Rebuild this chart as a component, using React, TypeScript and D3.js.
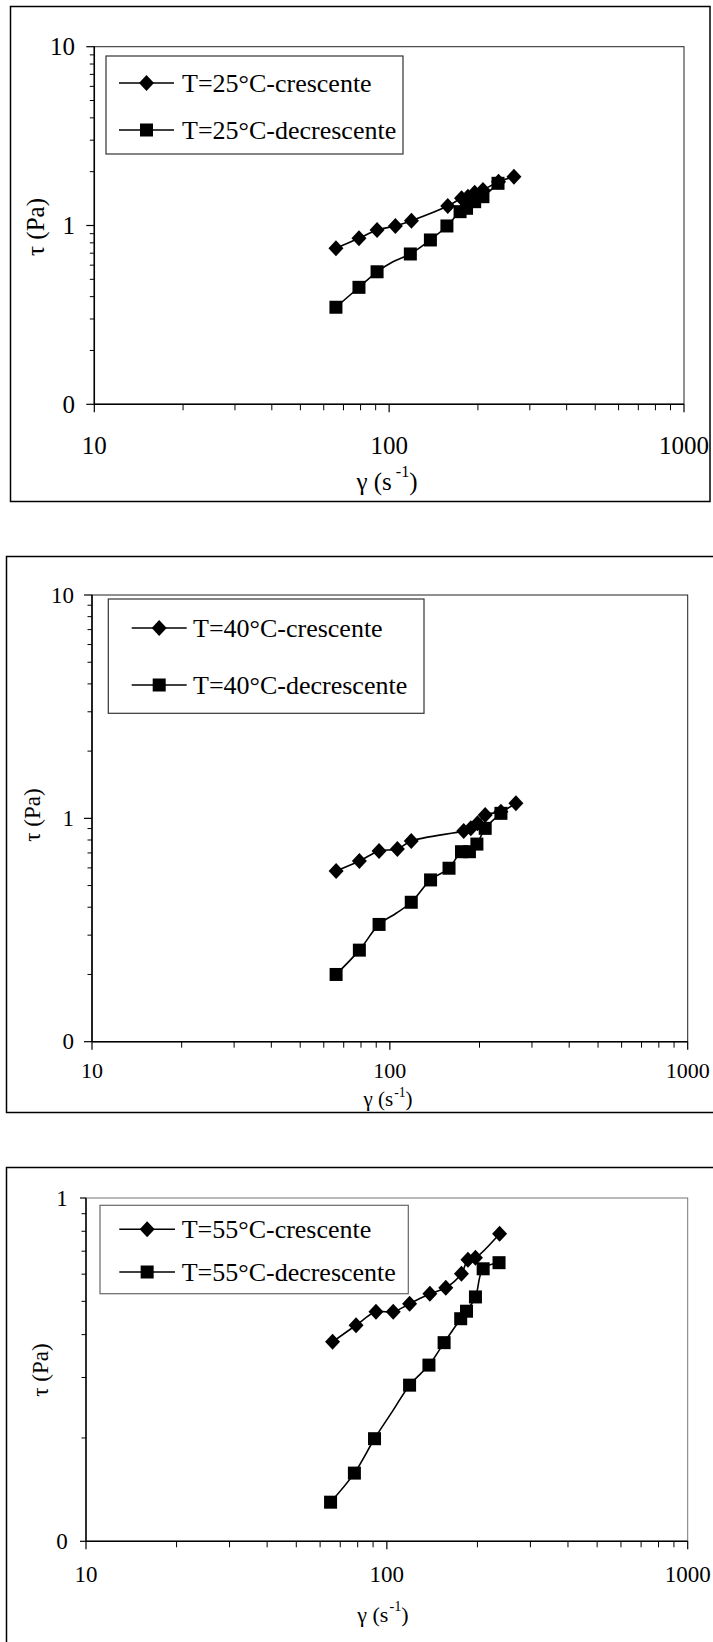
import React from "react";
import * as d3 from "d3";

// shear rate (1/s) and shear stress (Pa)
const rate25Up = [66, 79, 91, 105, 119, 158, 176, 185, 195, 208, 235, 265];
const tau25Up = [0.746, 0.848, 0.944, 0.994, 1.064, 1.285, 1.419, 1.449, 1.526, 1.58, 1.758, 1.875];
const rate25Down = [66, 79, 91, 103, 118, 138, 157, 174, 183, 195, 208, 234];
const tau25Down = [0.349, 0.451, 0.551, 0.627, 0.693, 0.83, 0.994, 1.195, 1.248, 1.359, 1.449, 1.722];

const rate40Up = [66, 79, 92, 106, 118, 177, 187, 197, 209, 236, 265];
const tau40Up = [0.581, 0.644, 0.714, 0.729, 0.792, 0.878, 0.902, 0.95, 1.035, 1.071, 1.168];
const rate40Down = [66, 79, 92, 105, 118, 137, 158, 174, 185, 196, 209, 236];
const tau40Down = [0.2, 0.257, 0.335, 0.376, 0.421, 0.53, 0.598, 0.709, 0.709, 0.767, 0.902, 1.053];

const rate55Up = [66, 79, 92, 105, 119, 139, 157, 177, 186, 197, 237];
const tau55Up = [0.381, 0.426, 0.466, 0.466, 0.492, 0.526, 0.548, 0.602, 0.661, 0.67, 0.787];
const rate55Down = [65, 78, 91, 105, 119, 138, 155, 176, 184, 197, 209, 236];
const tau55Down = [0.13, 0.158, 0.199, 0.241, 0.285, 0.326, 0.379, 0.445, 0.468, 0.515, 0.622, 0.648];

// point on the decrescente curves that has no marker
const noMarkerDown = [3];

const xTicks = [10, 100, 1000];
const xTickLabels = ["10", "100", "1000"];
const yTicksWide = [0.1, 1, 10];
const yTickLabelsWide = ["0", "1", "10"];
const yTicksNarrow = [0.1, 1];
const yTickLabelsNarrow = ["0", "1"];

const legend25 = ["T=25°C-crescente", "T=25°C-decrescente"];
const legend40 = ["T=40°C-crescente", "T=40°C-decrescente"];
const legend55 = ["T=55°C-crescente", "T=55°C-decrescente"];

const FONT = '"Liberation Serif", "DejaVu Serif", serif';

const Marker = ({ kind, cx, cy }) =>
  kind === "diamond" ? (
    <path d={`M${cx},${cy - 8}L${cx + 7.5},${cy}L${cx},${cy + 8}L${cx - 7.5},${cy}Z`} fill="#000" />
  ) : (
    <rect x={cx - 6.5} y={cy - 6.5} width={13} height={13} fill="#000" />
  );

const Panel = ({ cfg, yTicks, yLabels, up, down, legend }) => {
  const x = d3.scaleLog().domain([10, 1000]).range([cfg.l, cfg.r]);
  const y = d3.scaleLog().domain([yTicks[0], yTicks[yTicks.length - 1]]).range([cfg.b, cfg.t]);

  const line = d3
    .line()
    .x((d) => x(d[0]))
    .y((d) => y(d[1]))
    .curve(d3.curveCatmullRom.alpha(0.5));

  const upPts = up[0].map((r, i) => [r, up[1][i]]);
  const downPts = down[0].map((r, i) => [r, down[1][i]]);

  // minor ticks, 2..9 in every decade
  const xMinor = [];
  [10, 100].forEach((d) => d3.range(2, 10).forEach((k) => xMinor.push(d * k)));
  const yMinor = [];
  yTicks.slice(0, -1).forEach((d) => d3.range(2, 10).forEach((k) => yMinor.push(d * k)));

  return (
    <g style={{ fontFamily: FONT }} fill="#000">
      <rect x={cfg.frame[0]} y={cfg.frame[1]} width={cfg.frame[2]} height={cfg.frame[3]} fill="none" stroke="#000" strokeWidth={1.5} />
      <rect x={cfg.l} y={cfg.t} width={cfg.r - cfg.l} height={cfg.b - cfg.t} fill="none" stroke={cfg.boxColor} strokeWidth={1} />
      <line x1={cfg.l} x2={cfg.l} y1={cfg.t} y2={cfg.b} stroke="#000" strokeWidth={1.5} />
      <line x1={cfg.l} x2={cfg.r} y1={cfg.b} y2={cfg.b} stroke="#000" strokeWidth={1.5} />

      {xTicks.map((t, i) => (
        <g key={"xt" + t}>
          <line x1={x(t)} x2={x(t)} y1={cfg.b} y2={cfg.b + 8} stroke="#000" strokeWidth={1.2} />
          <text x={x(t)} y={cfg.xLabelY} textAnchor="middle" dominantBaseline="central" fontSize={cfg.xTickFont}>
            {xTickLabels[i]}
          </text>
        </g>
      ))}
      {xMinor.map((t) => (
        <line key={"xm" + t} x1={x(t)} x2={x(t)} y1={cfg.b} y2={cfg.b + 6} stroke="#000" strokeWidth={1} />
      ))}

      {yTicks.map((t, i) => (
        <g key={"yt" + t}>
          <line x1={cfg.l - cfg.yMajor} x2={cfg.l} y1={y(t)} y2={y(t)} stroke="#000" strokeWidth={1.2} />
          <text x={cfg.yLabelX} y={y(t)} textAnchor="end" dominantBaseline="central" fontSize={cfg.yTickFont}>
            {yLabels[i]}
          </text>
        </g>
      ))}
      {yMinor.map((t) => (
        <line key={"ym" + t} x1={cfg.l - 4.5} x2={cfg.l} y1={y(t)} y2={y(t)} stroke="#000" strokeWidth={1} />
      ))}

      <text
        transform={`translate(${cfg.yTitle[0]},${cfg.yTitle[1]}) rotate(-90)`}
        textAnchor="middle"
        dominantBaseline="central"
        fontSize={cfg.yTitleFont}
      >
        τ (Pa)
      </text>
      <text x={cfg.xTitle[0]} y={cfg.xTitle[1]} textAnchor="middle" dominantBaseline="central" fontSize={cfg.xTitleFont}>
        γ (s
        <tspan dx={cfg.supGap} dy={-cfg.xTitleFont * 0.35} fontSize={cfg.xTitleFont * 0.65}>
          -1
        </tspan>
        <tspan dy={cfg.xTitleFont * 0.35}>)</tspan>
      </text>

      <path d={line(upPts)} fill="none" stroke="#000" strokeWidth={1.6} />
      <path d={line(downPts)} fill="none" stroke="#000" strokeWidth={1.6} />
      {upPts.map((p, i) => (
        <Marker key={"u" + i} kind="diamond" cx={x(p[0])} cy={y(p[1])} />
      ))}
      {downPts.map((p, i) =>
        noMarkerDown.includes(i) ? null : <Marker key={"d" + i} kind="square" cx={x(p[0])} cy={y(p[1])} />
      )}

      <rect
        x={cfg.legend.x}
        y={cfg.legend.y}
        width={cfg.legend.w}
        height={cfg.legend.h}
        fill="#fff"
        stroke={cfg.legendColor}
        strokeWidth={1.2}
      />
      {legend.map((name, i) => {
        const ly = cfg.legend.rows[i];
        return (
          <g key={name}>
            <line x1={cfg.legend.x1} x2={cfg.legend.x2} y1={ly} y2={ly} stroke="#000" strokeWidth={1.6} />
            <Marker kind={i === 0 ? "diamond" : "square"} cx={(cfg.legend.x1 + cfg.legend.x2) / 2} cy={ly} />
            <text x={cfg.legend.tx} y={ly} dominantBaseline="central" fontSize={26}>
              {name}
            </text>
          </g>
        );
      })}
    </g>
  );
};

const cfg25 = {
  frame: [10.5, 6.5, 699.5, 495],
  l: 94.3, r: 684, t: 46.7, b: 404.3,
  boxColor: "#222", legendColor: "#333",
  xTickFont: 25, yTickFont: 25, xTitleFont: 25, yTitleFont: 25, yMajor: 8,
  yLabelX: 75, xLabelY: 445,
  yTitle: [35, 227], xTitle: [387, 481], supGap: 4,
  legend: { x: 106, y: 56, w: 297, h: 98, x1: 119, x2: 174, tx: 182, rows: [83, 130] },
};
const cfg40 = {
  frame: [6.5, 556.5, 720, 556],
  l: 92, r: 687.7, t: 595, b: 1041.7,
  boxColor: "#222", legendColor: "#333",
  xTickFont: 22, yTickFont: 23, xTitleFont: 21, yTitleFont: 23, yMajor: 8,
  yLabelX: 74, xLabelY: 1070,
  yTitle: [32, 815], xTitle: [388, 1099], supGap: 1,
  legend: { x: 108.3, y: 599, w: 315.7, h: 114.3, x1: 131.7, x2: 186.7, tx: 193, rows: [628, 685] },
};
const cfg55 = {
  frame: [6.5, 1167.5, 720, 500],
  l: 86, r: 687.7, t: 1198, b: 1541.3,
  boxColor: "#777", legendColor: "#666",
  xTickFont: 23, yTickFont: 23, xTitleFont: 22, yTitleFont: 23, yMajor: 6,
  yLabelX: 67.7, xLabelY: 1574,
  yTitle: [40.7, 1370], xTitle: [383, 1614], supGap: 1,
  legend: { x: 100, y: 1205.3, w: 308.3, h: 88.4, x1: 119.3, x2: 175, tx: 181.7, rows: [1229.3, 1272] },
};

export default function App() {
  return (
    <svg
      width={713}
      height={1642}
      style={{ position: "absolute", left: 0, top: 0, display: "block", background: "#fff", fontFamily: FONT }}
    >
      <Panel cfg={cfg25} yTicks={yTicksWide} yLabels={yTickLabelsWide} up={[rate25Up, tau25Up]} down={[rate25Down, tau25Down]} legend={legend25} />
      <Panel cfg={cfg40} yTicks={yTicksWide} yLabels={yTickLabelsWide} up={[rate40Up, tau40Up]} down={[rate40Down, tau40Down]} legend={legend40} />
      <Panel cfg={cfg55} yTicks={yTicksNarrow} yLabels={yTickLabelsNarrow} up={[rate55Up, tau55Up]} down={[rate55Down, tau55Down]} legend={legend55} />
    </svg>
  );
}
